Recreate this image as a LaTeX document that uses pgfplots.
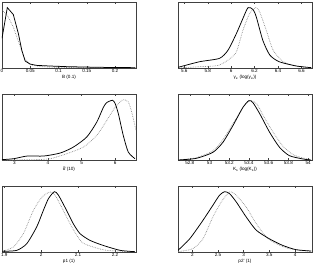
\documentclass[border=0pt]{standalone}
\usepackage{fontspec}
\setmainfont{Liberation Sans}
\usepackage{pgfplots}
\pgfplotsset{compat=1.18}
\pgfplotsset{
  panel/.style={
    scale only axis, width=134pt, height=66pt,
    anchor=north west,
    ymin=0, ymax=1, ytick=\empty,
    axis line style={black!75, line width=0.5pt},
    major tick length=1.6pt,
    tick style={black!75, line width=0.4pt},
    tick label style={font=\fontsize{4.6}{5}\selectfont, inner sep=0.5pt},
    xticklabel style={yshift=-0.6pt},
    label style={font=\fontsize{4.6}{5}\selectfont},
    xlabel style={at={(axis description cs:0.5,0)}, anchor=center, yshift=-9.5pt},
    /pgf/number format/assume math mode=true,
    /pgf/number format/fixed,
    scaled x ticks=false,
  },
  sol/.style={black, line width=0.75pt},
  dot/.style={black!45, densely dotted, line width=0.7pt},
}
\begin{document}
\begin{tikzpicture}
\useasboundingbox (0,0) rectangle (316pt,-267pt);
% Panel 1
\begin{axis}[panel, at={(2pt,-2pt)}, xmin=0, xmax=0.237,
  xtick={0,0.05,0.1,0.15,0.2}, xlabel={B (0.1)}]
\addplot[dot] coordinates {(0,0.88)(0.01,0.79)(0.02,0.62)(0.03,0.38)(0.04,0.14)(0.05,0.05)(0.07,0.02)(0.1,0.01)(0.15,0.005)(0.236,0.002)};
\addplot[sol] coordinates {(0,0.45)(0.0094,0.915)(0.020,0.81)(0.029,0.52)(0.035,0.27)(0.041,0.105)(0.0496,0.06)(0.061,0.04)(0.085,0.03)(0.116,0.02)(0.173,0.01)(0.236,0.005)};
\end{axis}
% Panel 2
\begin{axis}[panel, at={(178pt,-2pt)}, xmin=5.546, xmax=6.69,
  xtick={5.6,5.8,6,6.2,6.4,6.6}, xlabel={γ\textsubscript{e} (log(γ\textsubscript{e}))}]
\addplot[dot, smooth, tension=0.4] coordinates {(5.546,0.0)(5.73,0.02)(5.90,0.045)(6.036,0.22)(6.10,0.57)(6.156,0.82)(6.21,0.915)(6.243,0.85)(6.30,0.57)(6.358,0.27)(6.444,0.095)(6.557,0.03)(6.685,0.005)};
\addplot[sol, smooth, tension=0.4] coordinates {(5.546,0.01)(5.73,0.095)(5.90,0.146)(5.973,0.27)(6.044,0.52)(6.10,0.75)(6.144,0.915)(6.187,0.885)(6.215,0.77)(6.27,0.42)(6.33,0.196)(6.41,0.095)(6.557,0.03)(6.685,0.005)};
\end{axis}
% Panel 3
\begin{axis}[panel, at={(2pt,-94pt)}, xmin=2.63, xmax=6.62,
  xtick={3,4,5,6}, xlabel={δ̄ (10)}]
\addplot[dot, smooth, tension=0.4] coordinates {(2.63,0)(3.57,0.005)(4.07,0.02)(4.56,0.096)(5.06,0.197)(5.454,0.374)(5.75,0.6)(6.0,0.80)(6.2,0.905)(6.26,0.914)(6.39,0.88)(6.49,0.73)(6.62,0.45)};
\addplot[sol, smooth, tension=0.4] coordinates {(2.63,0.005)(2.98,0.02)(3.377,0.06)(3.87,0.06)(4.365,0.106)(4.76,0.197)(5.157,0.35)(5.454,0.576)(5.65,0.80)(5.75,0.87)(5.92,0.905)(6.0,0.854)(6.095,0.70)(6.24,0.374)(6.39,0.12)(6.59,0.02)};
\end{axis}
% Panel 4
\begin{axis}[panel, at={(178pt,-94pt)}, xmin=52.68, xmax=54.04,
  xtick={52.8,53,53.2,53.4,53.6,53.8,54}, xlabel={K\textsubscript{s} (log(K\textsubscript{s}))}]
\addplot[dot, smooth, tension=0.4] coordinates {(52.68,0)(52.866,0.035)(53.035,0.14)(53.137,0.31)(53.25,0.58)(53.36,0.84)(53.42,0.9)(53.48,0.85)(53.55,0.66)(53.65,0.41)(53.75,0.2)(53.85,0.08)(53.95,0.03)(54.03,0.01)};
\addplot[sol, smooth, tension=0.4] coordinates {(52.68,0)(52.866,0.025)(53.035,0.117)(53.137,0.27)(53.238,0.523)(53.34,0.80)(53.40,0.90)(53.44,0.87)(53.51,0.70)(53.61,0.42)(53.71,0.193)(53.81,0.066)(53.95,0.015)(54.03,0)};
\end{axis}
% Panel 5
\begin{axis}[panel, at={(2pt,-186pt)}, xmin=1.894, xmax=2.257,
  xtick={1.9,2,2.1,2.2}, xlabel={p1 (1)}]
\addplot[dot, smooth, tension=0.4] coordinates {(1.894,0.01)(1.925,0.076)(1.952,0.28)(1.979,0.63)(2.002,0.83)(2.024,0.91)(2.038,0.86)(2.06,0.63)(2.083,0.38)(2.11,0.15)(2.141,0.076)(2.178,0.025)(2.254,0.005)};
\addplot[sol, smooth, tension=0.4] coordinates {(1.894,0.01)(1.934,0.025)(1.961,0.126)(1.988,0.38)(2.006,0.63)(2.02,0.81)(2.036,0.914)(2.047,0.86)(2.069,0.63)(2.087,0.43)(2.105,0.28)(2.132,0.177)(2.168,0.10)(2.214,0.025)(2.254,0.005)};
\end{axis}
% Panel 6
\begin{axis}[panel, at={(178pt,-186pt)}, xmin=1.722, xmax=4.33,
  xtick={2,2.5,3,3.5,4}, xlabel={p2' (1)}]
\addplot[dot, smooth, tension=0.4] coordinates {(1.722,0.005)(2.01,0.05)(2.208,0.2)(2.40,0.53)(2.564,0.758)(2.726,0.91)(2.856,0.86)(3.05,0.68)(3.245,0.43)(3.44,0.227)(3.634,0.126)(3.89,0.05)(4.315,0.01)};
\addplot[sol, smooth, tension=0.4] coordinates {(1.722,0.025)(1.95,0.2)(2.208,0.48)(2.40,0.707)(2.53,0.86)(2.63,0.914)(2.726,0.884)(2.856,0.758)(3.05,0.53)(3.245,0.33)(3.50,0.2)(3.76,0.1)(4.02,0.035)(4.315,0.015)};
\end{axis}
\end{tikzpicture}
\end{document}
